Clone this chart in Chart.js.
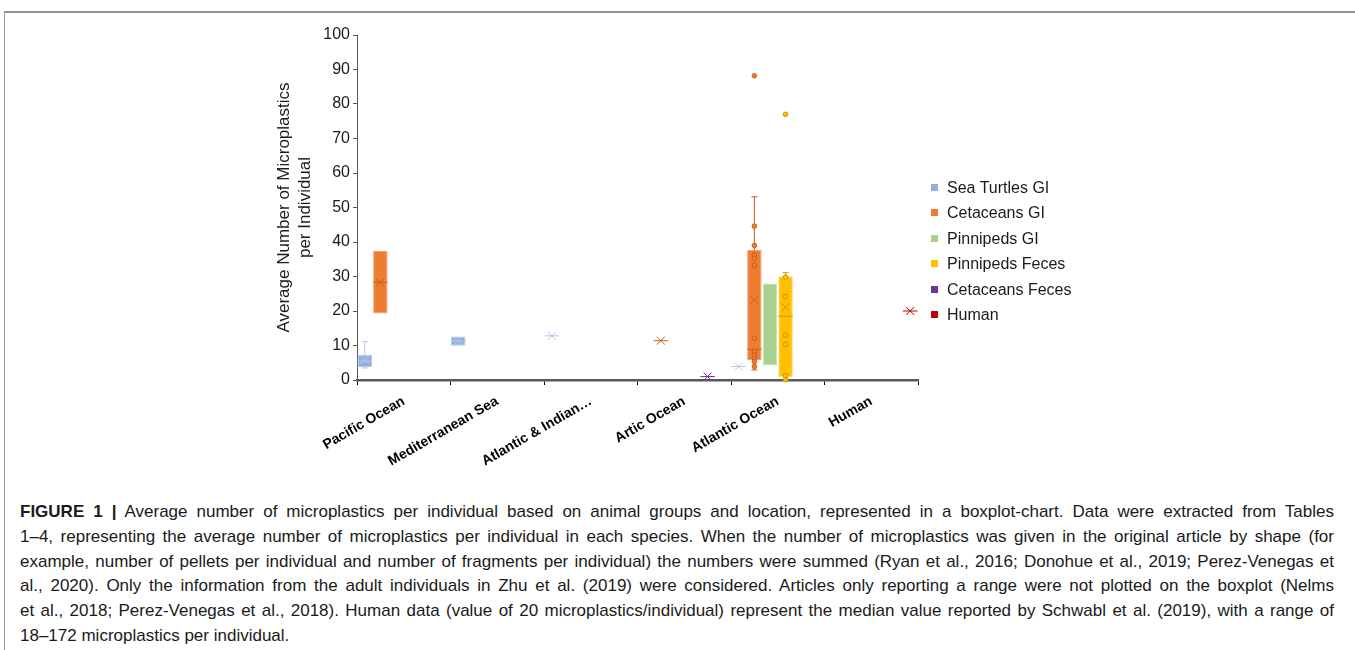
<!DOCTYPE html>
<html>
<head>
<meta charset="utf-8">
<script src="https://cdn.jsdelivr.net/npm/chart.js@4.4.1/dist/chart.umd.min.js"></script>
<style>
  html, body { margin: 0; padding: 0; background: #fff; }
  body { width: 1355px; height: 650px; position: relative; overflow: hidden; font-family: "Liberation Sans", Arial, sans-serif; }
  #frame { position: absolute; left: 4px; top: 11px; right: 0; bottom: 0; border-top: 2px solid #929292; border-left: 1px solid #9a9a9a; }
  #chart-wrap { position: absolute; left: 0; top: 0; width: 1355px; height: 470px; }
  #legend { position: absolute; left: 931px; top: 177px; font-size: 16px; color: #1a1a1a; }
  #legend .row { height: 25.4px; line-height: 22px; white-space: nowrap; }
  #legend .sw { display: inline-block; width: 7px; height: 7px; margin-right: 9px; vertical-align: 2px; }
  #caption { position: absolute; left: 20px; top: 500px; width: 1314px; font-family: "Liberation Sans Narrow", "Liberation Sans", Arial, sans-serif; font-size: 17px; color: #1a1a1a; }
  #caption .ln { height: 24.8px; line-height: 24.8px; white-space: nowrap; text-align: justify; text-align-last: justify; }
  #caption .ln.last { text-align-last: left; }
</style>
</head>
<body>
<div id="frame"></div>
<div id="chart-wrap"><canvas id="chart" width="1355" height="470"></canvas></div>
<div id="legend"></div>
<div id="caption">
  <div class="ln"><b>FIGURE 1 |</b> Average number of microplastics per individual based on animal groups and location, represented in a boxplot-chart. Data were extracted from Tables</div>
  <div class="ln">1–4, representing the average number of microplastics per individual in each species. When the number of microplastics was given in the original article by shape (for</div>
  <div class="ln">example, number of pellets per individual and number of fragments per individual) the numbers were summed (Ryan et al., 2016; Donohue et al., 2019; Perez-Venegas et</div>
  <div class="ln">al., 2020). Only the information from the adult individuals in Zhu et al. (2019) were considered. Articles only reporting a range were not plotted on the boxplot (Nelms</div>
  <div class="ln">et al., 2018; Perez-Venegas et al., 2018). Human data (value of 20 microplastics/individual) represent the median value reported by Schwabl et al. (2019), with a range of</div>
  <div class="ln last">18–172 microplastics per individual.</div>
</div>
<script>
const categories = ["Pacific Ocean", "Mediterranean Sea", "Atlantic & Indian…", "Artic Ocean", "Atlantic Ocean", "Human"];
const seriesNames = ["Sea Turtles GI", "Cetaceans GI", "Pinnipeds GI", "Pinnipeds Feces", "Cetaceans Feces", "Human"];
const seriesColors = ["#93afe0", "#ed7d31", "#a9d18e", "#ffc000", "#7030a0", "#c00000"];
const borderColors = ["#b4c7e7", "#f4a16a", "#c5e0b4", "#ffd966", "#8e55b8", "#d03030"];
const lineColors = ["#b4c7e7", "#c95f1c", "#a9d18e", "#c99700", "#7030a0", "#c00000"];

// box stats per category: [min, q1, median, q3, max, mean]
const seaTurtlesGI = [[3.5, 3.8, 5.5, 7.3, 11.1, 5.8], [9.9, 9.9, 11.3, 12.6, 12.6, 11.3], [12.8, 12.8, 12.8, 12.8, 12.8, 12.8], null, [3.9, 3.9, 3.9, 3.9, 3.9, 3.9], null];
const cetaceansGI = [[19.3, 19.3, 28.3, 37.4, 37.4, 28.3], null, null, [11.4, 11.4, 11.4, 11.4, 11.4, 11.4], [2.9, 5.8, 8.9, 37.7, 53.1, 23.2], null];
const pinnipedsGI = [null, null, null, null, [4.2, 4.2, null, 28.0, 28.0, null], null];
const pinnipedsFeces = [null, null, null, null, [0.1, 0.8, 18.5, 30.1, 31.1, 21.1], null];
const cetaceansFeces = [null, null, null, [1.0, 1.0, 1.0, 1.0, 1.0, 1.0], null, null];
const human = [null, null, null, null, null, [20, 20, 20, 20, 20, 20]];

// single values shown as markers (Atlantic Ocean)
const cetaceansGIPoints = [88.2, 44.6, 39.0, 36.3, 35.2, 33.2, 12.1, 8.2, 7.2, 6.3, 5.3, 3.9];
const pinnipedsFecesPoints = [77.0, 29.8, 24.2, 13.0, 10.3, 1.2, 0.1];

const yTicks = [0, 10, 20, 30, 40, 50, 60, 70, 80, 90, 100];

const allBoxes = [seaTurtlesGI, cetaceansGI, pinnipedsGI, pinnipedsFeces, cetaceansFeces, human];
const pointSets = [
  { series: 1, category: 4, values: cetaceansGIPoints },
  { series: 3, category: 4, values: pinnipedsFecesPoints }
];

// legend
document.getElementById("legend").innerHTML = seriesNames.map((n, i) =>
  `<div class="row"><span class="sw" style="background:${seriesColors[i]}"></span>${n}</div>`).join("");

function line(ctx, x1, y1, x2, y2) {
  ctx.beginPath();
  ctx.moveTo(x1, y1);
  ctx.lineTo(x2, y2);
  ctx.stroke();
}

// whiskers, median, mean and point markers on top of the floating bars
const boxExtras = {
  id: "boxExtras",
  afterDatasetsDraw(chart) {
    const ctx = chart.ctx;
    const ys = chart.scales.y;
    const py = v => ys.getPixelForValue(v);
    allBoxes.forEach((boxes, i) => {
      const meta = chart.getDatasetMeta(i);
      boxes.forEach((b, j) => {
        if (!b) return;
        const bar = meta.data[j];
        const cx = bar.x, hw = bar.width / 2;
        const [min, q1, med, q3, max, mean] = b;
        ctx.save();
        ctx.strokeStyle = lineColors[i];
        ctx.lineWidth = 1;
        if (max > q3) { line(ctx, cx, py(q3), cx, py(max)); line(ctx, cx - 3, py(max), cx + 3, py(max)); }
        if (min < q1) { line(ctx, cx, py(q1), cx, py(min)); line(ctx, cx - 3, py(min), cx + 3, py(min)); }
        if (med != null) line(ctx, cx - hw, py(med), cx + hw, py(med));
        if (mean != null) {
          const m = py(mean);
          line(ctx, cx - 4, m - 4, cx + 4, m + 4);
          line(ctx, cx - 4, m + 4, cx + 4, m - 4);
        }
        ctx.restore();
      });
    });
    pointSets.forEach(p => {
      const bar = chart.getDatasetMeta(p.series).data[p.category];
      ctx.save();
      ctx.fillStyle = seriesColors[p.series];
      ctx.strokeStyle = lineColors[p.series];
      ctx.lineWidth = 1;
      p.values.forEach(v => {
        ctx.beginPath();
        ctx.arc(bar.x, py(v), 2.3, 0, Math.PI * 2);
        ctx.fill();
        ctx.stroke();
      });
      ctx.restore();
    });
  }
};

Chart.defaults.font.family = '"Liberation Sans", Arial, sans-serif';
Chart.defaults.color = "#1a1a1a";

new Chart(document.getElementById("chart"), {
  type: "bar",
  data: {
    labels: categories,
    datasets: allBoxes.map((boxes, i) => ({
      label: seriesNames[i],
      data: boxes.map(b => b ? [b[1], b[3]] : null),
      backgroundColor: seriesColors[i],
      borderColor: borderColors[i],
      borderWidth: 1,
      borderSkipped: false,
      categoryPercentage: 1,
      barPercentage: 0.93
    }))
  },
  options: {
    responsive: false,
    animation: false,
    devicePixelRatio: 1,
    layout: { padding: { left: 274, right: 437, top: 35, bottom: 0 } },
    plugins: { legend: { display: false }, tooltip: { enabled: false } },
    scales: {
      x: {
        grid: { drawOnChartArea: false, drawTicks: true, tickLength: 5, color: "#000" },
        border: { color: "#595959", width: 2.5 },
        ticks: { maxRotation: 30, minRotation: 30, padding: 8, font: { size: 14, weight: "bold" }, color: "#000" },
        afterFit: s => { s.height = 90; }
      },
      y: {
        min: 0,
        max: 100,
        afterBuildTicks: s => { s.ticks = yTicks.map(v => ({ value: v })); },
        grid: { drawOnChartArea: false, drawTicks: true, tickLength: 4, color: "#595959" },
        border: { color: "#595959", width: 1 },
        ticks: { padding: 3, font: { size: 16 }, color: "#1a1a1a" },
        title: {
          display: true,
          text: ["Average Number of Microplastics", "per Individual"],
          font: { size: 17, lineHeight: 1.235 },
          padding: 0,
          color: "#1a1a1a"
        },
        afterFit: s => { s.width = 83; }
      }
    }
  },
  plugins: [boxExtras]
});
</script>
</body>
</html>
